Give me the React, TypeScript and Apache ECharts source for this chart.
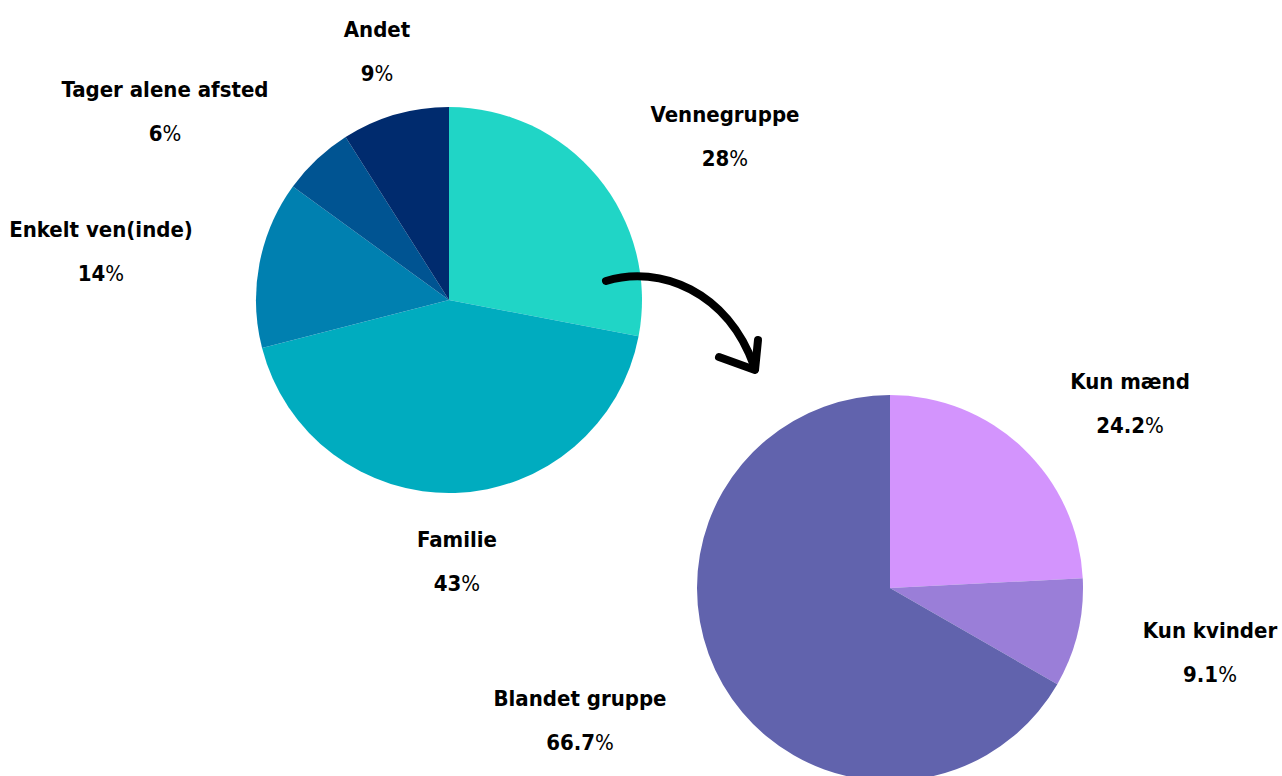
import React, { useEffect, useRef } from "react";
import * as echarts from "echarts";

const groupNames = ["Vennegruppe", "Familie", "Enkelt ven(inde)", "Tager alene afsted", "Andet"];
const groupValues = [28, 43, 14, 6, 9];
const groupColors = ["#20D5C6", "#00ACBF", "#0080B0", "#005492", "#002B6E"];

const friendNames = ["Kun mænd", "Kun kvinder", "Blandet gruppe"];
const friendValues = [24.2, 9.1, 66.7];
const friendColors = ["#D394FD", "#9A7ED8", "#6163AD"];

const FONT = "'DejaVu Sans Condensed', 'Liberation Sans Narrow', Roboto, sans-serif";

// label block centres, relative to each pie's centre
const labelOffsets1 = [[276, -164], [8, 261], [-348, -49], [-284, -189], [-72, -249]];
const labelOffsets2 = [[240, -185], [320, 64], [-310, 132]];

const C1 = [449, 300];
const C2 = [890, 588];
const R = 193;

function makeLabel() {
  return {
    show: true,
    position: "outside",
    overflow: "none",
    formatter: (p: any) => `{n|${p.name}}\n{v|${p.value}}{p|%}`,
    align: "center",
    rich: {
      n: { fontFamily: FONT, fontWeight: "bold", fontSize: 22, color: "#000", lineHeight: 44, align: "center" },
      v: { fontFamily: FONT, fontWeight: "bold", fontSize: 22, color: "#000", lineHeight: 44 },
      p: { fontFamily: FONT, fontWeight: "normal", fontSize: 22, color: "#000", lineHeight: 44 },
    },
  };
}

export default function App() {
  const ref = useRef<HTMLDivElement>(null);
  useEffect(() => {
    if (!ref.current) return;
    const chart = echarts.init(ref.current, undefined, { renderer: "svg" });
    chart.setOption({
      animation: false,
      backgroundColor: "#ffffff",
      series: [
        {
          type: "pie",
          center: C1,
          radius: R,
          startAngle: 90,
          clockwise: true,
          label: makeLabel(),
          labelLine: { show: false },
          labelLayout: (params: any) => {
            const o = labelOffsets1[params.dataIndex];
            return { x: C1[0] + o[0], y: C1[1] + o[1], align: "center", verticalAlign: "middle" };
          },
          data: groupNames.map((n, i) => ({ name: n, value: groupValues[i], itemStyle: { color: groupColors[i] } })),
        },
        {
          type: "pie",
          center: C2,
          radius: R,
          startAngle: 90,
          clockwise: true,
          label: makeLabel(),
          labelLine: { show: false },
          labelLayout: (params: any) => {
            const o = labelOffsets2[params.dataIndex];
            return { x: C2[0] + o[0], y: C2[1] + o[1], align: "center", verticalAlign: "middle" };
          },
          data: friendNames.map((n, i) => ({ name: n, value: friendValues[i], itemStyle: { color: friendColors[i] } })),
        },
      ],
      graphic: [
        {
          type: "bezierCurve",
          z: 100,
          shape: { x1: 606, y1: 281, cpx1: 660, cpy1: 264, cpx2: 728, cpy2: 292, x2: 754, y2: 366 },
          style: { stroke: "#000", lineWidth: 8, fill: "none", lineCap: "round" },
        },
        {
          type: "polyline",
          z: 100,
          shape: { points: [[719, 357], [755, 370], [758, 340]] },
          style: { stroke: "#000", lineWidth: 8, fill: "none", lineCap: "round", lineJoin: "round" },
        },
      ],
    });
    return () => chart.dispose();
  }, []);
  return <div ref={ref} style={{ position: "fixed", left: 0, top: 0, width: 1282, height: 776 }} />;
}
